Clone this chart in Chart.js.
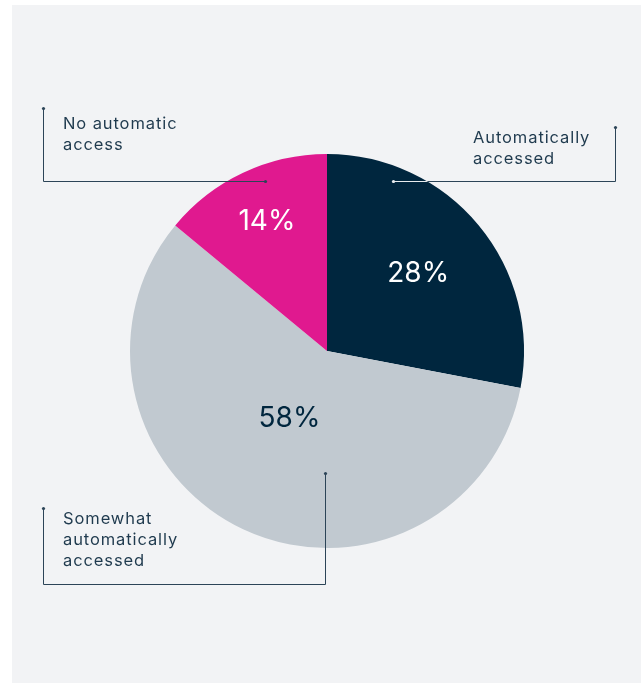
<!DOCTYPE html>
<html>
<head>
<meta charset="utf-8">
<script src="https://cdn.jsdelivr.net/npm/chart.js@4"></script>
<style>
  html, body { margin: 0; padding: 0; background: #ffffff; }
  #wrap { position: relative; width: 643px; height: 683px; }
  #panel { position: absolute; left: 12px; top: 5px; width: 629px; height: 678px; background: #f2f3f5; }
  #chart { position: absolute; left: 0; top: 0; }
</style>
</head>
<body>
<div id="wrap">
  <div id="panel"></div>
  <canvas id="chart" width="643" height="683"></canvas>
</div>
<script>
// Share of access type
const categories = ['Automatically accessed', 'Somewhat automatically accessed', 'No automatic access'];
const values = [28, 58, 14];
const calloutLines = [
  ['Automatically', 'accessed'],
  ['Somewhat', 'automatically', 'accessed'],
  ['No automatic', 'access']
];
const sliceColors = ['#00263e', '#c1c9d0', '#e0198f'];
const valueColors = ['#ffffff', '#00263e', '#ffffff'];

// Where each value label sits inside its slice (fraction of radius, angle tweak in degrees)
const valuePlacement = [
  { r: 0.61, da: -1 },
  { r: 0.39, da: 4 },
  { r: 0.73, da: 0.5 }
];

// Callout leader paths (polyline points) and text anchors, per slice
const callouts = [
  { path: [[393, 181], [615, 181], [615, 127]], dots: [[393, 181], [615, 127]], text: [473, 143] },
  { path: [[325, 473], [325, 584], [43, 584], [43, 508]], dots: [[325, 473], [43, 508]], text: [63, 524] },
  { path: [[265, 181], [43, 181], [43, 108]], dots: [[265, 181], [43, 108]], text: [63, 129] }
];

const valueLabelPlugin = {
  id: 'valueLabels',
  afterDatasetsDraw(chart) {
    const ctx = chart.ctx;
    const meta = chart.getDatasetMeta(0);
    ctx.save();
    ctx.font = '400 28px Inter, "Noto Sans", sans-serif';
    ctx.textAlign = 'center';
    ctx.textBaseline = 'middle';
    meta.data.forEach((arc, i) => {
      const p = arc.getProps(['x', 'y', 'startAngle', 'endAngle', 'outerRadius'], true);
      const mid = (p.startAngle + p.endAngle) / 2 + valuePlacement[i].da * Math.PI / 180;
      const rr = p.outerRadius * valuePlacement[i].r;
      ctx.fillStyle = valueColors[i];
      ctx.fillText(values[i] + '%', p.x + Math.cos(mid) * rr, p.y + Math.sin(mid) * rr + 1);
    });
    ctx.restore();
  }
};

const calloutPlugin = {
  id: 'callouts',
  afterDraw(chart) {
    const ctx = chart.ctx;
    const meta = chart.getDatasetMeta(0);
    const strokePath = (c) => {
      ctx.beginPath();
      c.path.forEach((pt, k) => {
        const x = pt[0] + 0.5, y = pt[1] + 0.5;
        if (k === 0) ctx.moveTo(x, y); else ctx.lineTo(x, y);
      });
      ctx.stroke();
      c.dots.forEach(d => {
        ctx.beginPath();
        ctx.arc(d[0] + 0.5, d[1] + 0.5, 1.6, 0, Math.PI * 2);
        ctx.fill();
      });
    };
    callouts.forEach((c, i) => {
      ctx.save();
      ctx.lineWidth = 1;
      ctx.strokeStyle = '#2c4457';
      ctx.fillStyle = '#2c4457';
      strokePath(c);
      ctx.restore();

      // Light leader where it crosses the dark slice
      const arc = meta.data[0].getProps(['x', 'y', 'startAngle', 'endAngle', 'outerRadius'], true);
      ctx.save();
      ctx.beginPath();
      ctx.moveTo(arc.x, arc.y);
      ctx.arc(arc.x, arc.y, arc.outerRadius, arc.startAngle, arc.endAngle);
      ctx.closePath();
      ctx.clip();
      ctx.lineWidth = 1;
      ctx.strokeStyle = '#e8ecef';
      ctx.fillStyle = '#e8ecef';
      strokePath(c);
      ctx.restore();

      ctx.save();
      ctx.font = '400 16.5px Inter, "Noto Sans", sans-serif';
      ctx.letterSpacing = '0.9px';
      ctx.fillStyle = '#1f3a4e';
      ctx.textAlign = 'left';
      ctx.textBaseline = 'alphabetic';
      calloutLines[i].forEach((line, k) => {
        ctx.fillText(line, c.text[0], c.text[1] + k * 21);
      });
      ctx.restore();
    });
  }
};

new Chart(document.getElementById('chart'), {
  type: 'pie',
  data: {
    labels: categories,
    datasets: [{
      data: values,
      backgroundColor: sliceColors,
      borderWidth: 0,
      hoverOffset: 0
    }]
  },
  options: {
    responsive: false,
    animation: false,
    layout: { padding: { left: 130, right: 119, top: 154, bottom: 135 } },
    plugins: {
      legend: { display: false },
      tooltip: { enabled: false }
    }
  },
  plugins: [valueLabelPlugin, calloutPlugin]
});
</script>
</body>
</html>
